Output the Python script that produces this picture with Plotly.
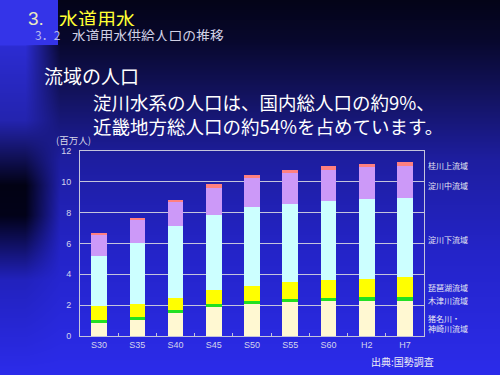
import numpy as np
import zlib, struct, base64
import plotly.graph_objects as go

# ---------------- data ----------------
categories = ["S30", "S35", "S40", "S45", "S50", "S55", "S60", "H2", "H7"]
ina_kanzaki = [0.83, 1.05, 1.51, 1.87, 2.06, 2.18, 2.26, 2.29, 2.29]   # 猪名川・神崎川流域
kizu =        [0.22, 0.20, 0.17, 0.20, 0.20, 0.19, 0.20, 0.21, 0.21]   # 木津川流域
biwako =      [0.87, 0.84, 0.80, 0.89, 1.01, 1.13, 1.17, 1.22, 1.30]   # 琵琶湖流域
yodo_lower =  [3.27, 3.95, 4.64, 4.92, 5.11, 5.05, 5.12, 5.18, 5.14]   # 淀川下流域
yodo_middle = [1.39, 1.47, 1.56, 1.71, 1.84, 2.04, 2.03, 2.04, 2.06]   # 淀川中流域
katsura_up =  [0.13, 0.15, 0.13, 0.24, 0.21, 0.15, 0.22, 0.23, 0.26]   # 桂川上流域
y_ticks = [0, 2, 4, 6, 8, 10, 12]

series = [
    ("猪名川・神崎川流域", ina_kanzaki, "#fff8d2"),
    ("木津川流域", kizu, "#22e022"),
    ("琵琶湖流域", biwako, "#ffff00"),
    ("淀川下流域", yodo_lower, "#ccffff"),
    ("淀川中流域", yodo_middle, "#cc99f8"),
    ("桂川上流域", katsura_up, "#ff8080"),
]

# ---------------- background gradient image ----------------
W, H = 500, 375
ys = np.arange(H, dtype=float)
xs = np.arange(W, dtype=float)

def interp_rgb(pts, t):
    pos = [p[0] for p in pts]
    return np.stack([np.interp(t, pos, [p[1][i] for p in pts]) for i in range(3)], axis=-1)

base = interp_rgb([(0, (4, 4, 24)), (40, (8, 8, 45)), (100, (20, 20, 100)),
                   (160, (30, 30, 160)), (250, (36, 36, 200)), (375, (44, 44, 235))], ys)
stripe = interp_rgb([(0, (52, 52, 232)), (44, (52, 52, 232)), (46, (44, 44, 210)),
                     (120, (36, 36, 175)), (185, (2, 2, 20)), (215, (2, 2, 25)),
                     (280, (34, 34, 190)), (375, (44, 44, 235))], ys)
w = np.clip((60 - xs) / 35.0, 0, 1)[None, :].repeat(H, axis=0)
w[:45, :] = (xs < 58)[None, :]
img = base[:, None, :] * (1 - w[..., None]) + stripe[:, None, :] * w[..., None]
img = np.clip(img, 0, 255).astype(np.uint8)

def png_uri(arr):
    h, wd, _ = arr.shape
    raw = b"".join(b"\x00" + arr[i].tobytes() for i in range(h))
    def chunk(t, d):
        return struct.pack(">I", len(d)) + t + d + struct.pack(">I", zlib.crc32(t + d) & 0xffffffff)
    png = (b"\x89PNG\r\n\x1a\n" + chunk(b"IHDR", struct.pack(">IIBBBBB", wd, h, 8, 2, 0, 0, 0))
           + chunk(b"IDAT", zlib.compress(raw, 9)) + chunk(b"IEND", b""))
    return "data:image/png;base64," + base64.b64encode(png).decode()

# ---------------- figure ----------------
L, R, T, B = 80, 76, 151, 39
PW, PH = W - L - R, H - T - B

def PX(x):
    return (x - L) / PW

def PY(y):
    return (H - B - y) / PH

fig = go.Figure()
for name, vals, col in series:
    fig.add_trace(go.Bar(x=categories, y=vals, name=name, marker=dict(color=col, line=dict(width=0))))

CJK = "Noto Sans CJK JP, sans-serif"
LAT = "Liberation Sans, Arial, sans-serif"
grid = "#c4c4dc"

fig.update_layout(
    width=W, height=H, barmode="stack", bargap=0.59, showlegend=False,
    margin=dict(l=L, r=R, t=T, b=B, pad=0),
    paper_bgcolor="#1a1a90", plot_bgcolor="rgba(0,0,0,0)",
    images=[dict(source=png_uri(img), xref="paper", yref="paper", x=PX(0), y=PY(0),
                 sizex=W / PW, sizey=H / PH, xanchor="left", yanchor="top",
                 sizing="stretch", layer="below")],
    xaxis=dict(showline=True, mirror=True, linecolor=grid, linewidth=1,
               ticks="inside", tickson="boundaries", ticklen=3, tickcolor=grid,
               tickfont=dict(family=LAT, size=9, color="#d4d4ec"), showgrid=False),
    yaxis=dict(range=[0, 12], tickvals=y_ticks, showline=True, mirror=True, linecolor=grid,
               linewidth=1, gridcolor=grid, gridwidth=1, ticks="", ticklabelstandoff=6,
               tickfont=dict(family=LAT, size=9, color="#d4d4ec"), zeroline=False),
)

def ann(text, x, y, size, color, family=CJK, h=None):
    kw = dict(height=h) if h else {}
    fig.add_annotation(text=text, x=PX(x), y=PY(y), xref="paper", yref="paper",
                       xanchor="left", yanchor="middle", showarrow=False, align="left",
                       font=dict(family=family, size=size, color=color), **kw)

ann("3.", 26, 17.5, 19, "#e8e8c0", LAT, 16)
ann("水道用水", 57, 17.5, 19, "#ffff33", CJK, 16)
ann("3．2", 33, 34.5, 12, "#b8b8f0", CJK, 11)
ann("水道用水供給人口の推移", 70, 34.5, 13.8, "#d0d0e4", CJK, 12)
ann("流域の人口", 42, 75, 19, "#ffffff")
ann("淀川水系の人口は、国内総人口の約9%、", 91, 102, 18.5, "#ffffff", CJK, 20)
ann("近畿地方総人口の約54%を占めています。", 91, 126, 18.5, "#ffffff", CJK, 20)
ann("(百万人)", 54, 139.5, 9.5, "#d8d8e8")
ann("出典:国勢調査", 369, 361, 10, "#eeeef6")

side = [("桂川上流域", 165.5), ("淀川中流域", 185), ("淀川下流域", 239),
        ("琵琶湖流域", 287.5), ("木津川流域", 300)]
for t, yy in side:
    ann(t, 426, yy, 8, "#e8e8f4")
ann("猪名川・<br>神崎川流域", 426, 323.5, 8, "#e8e8f4")

fig.write_html("out.html", config={"displayModeBar": False},
               post_script="document.body.style.margin='0';document.body.style.overflow='hidden';")
